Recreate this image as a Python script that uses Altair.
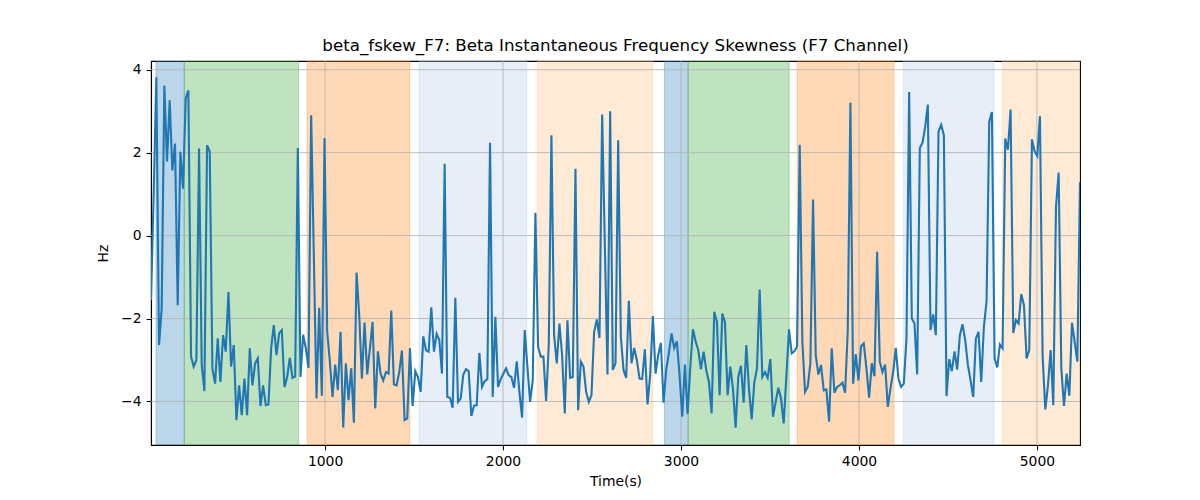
import altair as alt
import pandas as pd

TITLE = "beta_fskew_F7: Beta Instantaneous Frequency Skewness (F7 Channel)"

# sampled signal: first sample time and sampling step (s)
t_start = 22
t_step = 15

skew_hz = [
    -1.56, 1.00, 3.82, -2.64, -1.76, 3.62, 1.79, 3.26, 1.57, 2.22,
    -1.68, 2.02, 1.13, 3.30, 3.50, -2.92, -3.16, -3.00, 2.10, -3.12,
    -3.75, 2.18, 2.02, -3.20, -3.57, -2.48, -3.53, -2.40, -2.80, -1.36,
    -3.16, -2.64, -4.45, -3.61, -4.33, -3.45, -4.33, -2.72, -3.61, -3.08,
    -2.96, -4.11, -3.61, -4.09, -4.07, -2.72, -2.16, -2.88, -2.36, -2.28,
    -3.65, -3.41, -2.95, -3.43, -3.40, 2.11, -3.41, -2.39, -2.72, -3.19,
    2.90, -0.50, -3.93, -1.74, -3.86, 2.35, -2.32, -3.04, -3.89, -3.11,
    -3.73, -2.32, -4.63, -3.08, -3.97, -3.20, -4.51, -0.89, -1.92, -3.45,
    -2.10, -3.35, -2.72, -2.08, -4.17, -2.79, -3.33, -3.49, -3.29, -3.33,
    -1.81, -3.59, -3.61, -3.29, -2.77, -4.45, -4.41, -2.71, -4.11, -3.27,
    -3.41, -3.77, -2.43, -2.76, -2.80, -1.73, -2.80, -2.37, -2.52, -3.33,
    1.73, -3.89, -3.91, -4.15, -1.50, -4.01, -3.93, -3.35, -3.22, -3.27,
    -4.35, -4.10, -4.09, -2.83, -3.65, -3.51, -3.46, 2.24, -3.89, -1.96,
    -3.65, -3.46, -3.33, -3.20, -3.37, -3.41, -3.67, -3.03, -3.77, -4.39,
    -2.28, -3.16, -4.01, -3.49, 0.55, -2.68, -2.92, -2.92, -3.99, -2.64,
    2.42, -2.40, -3.08, -2.12, -2.88, -4.29, -2.04, -3.43, -3.41, 1.61,
    -4.21, -3.04, -3.16, -3.77, -4.01, -3.85, -2.32, -2.02, -2.47, 2.92,
    -0.20, -3.35, 3.00, -3.24, -3.08, 2.30, -2.44, -3.24, -3.43, -1.57,
    -3.08, -2.71, -3.00, -3.45, -3.46, -2.74, -4.07, -3.35, -1.94, -3.33,
    -2.88, -2.59, -4.03, -3.24, -2.83, -2.36, -2.71, -2.55, -3.37, -4.37,
    -3.11, -4.30, -3.20, -2.26, -2.55, -2.76, -3.22, -2.80, -3.24, -3.53,
    -4.29, -1.84, -2.08, -3.85, -1.88, -2.08, -3.85, -3.16, -3.69, -4.63,
    -3.41, -3.14, -4.03, -2.64, -3.69, -4.43, -3.54, -3.20, -1.30, -3.41,
    -3.29, -3.43, -2.98, -4.37, -4.01, -3.67, -3.93, -4.53, -3.40, -2.26,
    -2.84, -2.79, -2.68, 2.19, -2.56, -3.77, -3.65, -3.08, 0.87, -2.88,
    -3.35, -3.12, -3.73, -3.71, -4.49, -2.72, -3.79, -3.65, -3.61, -3.55,
    -3.79, -2.30, 3.20, -3.57, -2.86, -3.49, -2.67, -2.60, -3.20, -3.91,
    -3.08, -3.39, -0.39, -3.04, -3.29, -3.11, -4.13, -3.69, -3.29, -2.71,
    -3.46, -3.65, -3.57, -2.48, 3.46, -2.00, -2.12, -3.35, 2.11, 2.24,
    2.62, 3.16, -2.28, -1.90, -2.40, 2.51, 2.67, 2.42, -3.87, -2.98,
    -3.27, -2.79, -3.23, -2.40, -2.14, -2.52, -3.12, -3.49, -3.89, -2.48,
    -2.32, -3.53, -2.20, -1.58, 2.74, 2.98, -2.96, -3.18, -2.63, -2.72,
    2.34, 2.07, 3.04, -2.35, -2.04, -2.12, -1.41, -1.68, -2.96, -2.76,
    2.32, 2.03, 1.92, 2.88, -2.92, -4.19, -3.61, -2.76, -4.09, 0.69,
    1.52, -3.20, -4.11, -3.33, -3.86, -2.10, -2.56, -3.04, 1.29,
]

# shaded segments
band_start = [50, 209, 899, 1528, 2192, 2907, 3040, 3653, 4249, 4805]
band_end = [209, 852, 1476, 2134, 2842, 3040, 3608, 4197, 4759, 5300]
band_color = ["#1f77b4", "#2ca02c", "#ff7f0e", "#aec7e8", "#ffbb78",
              "#1f77b4", "#2ca02c", "#ff7f0e", "#aec7e8", "#ffbb78"]

x_ticks = [1000, 2000, 3000, 4000, 5000]
y_ticks = [-4, -2, 0, 2, 4]

W = 929
H = 384

times = [t_start + t_step * i for i in range(len(skew_hz))]
sig = pd.DataFrame({"t": times, "v": skew_hz})
bands = pd.DataFrame({"start": band_start, "end": band_end, "color": band_color})

x_scale = alt.Scale(domain=[times[0], times[-1]], nice=False, zero=False)
y_scale = alt.Scale(domain=[-5.05, 4.21], nice=False, zero=False)

x_axis = alt.Axis(values=x_ticks, grid=False, title="Time(s)", format="d",
                  labelPadding=5, titlePadding=6)
y_axis = alt.Axis(values=y_ticks, grid=False, title="Hz",
                  labelExpr="replace(datum.label, '-', '\u2212')",
                  labelPadding=5, titlePadding=10)

band_layer = alt.Chart(bands).mark_rect(
    fillOpacity=0.3, strokeOpacity=0.3, strokeWidth=1, clip=True
).encode(
    x=alt.X("start:Q", scale=x_scale, axis=x_axis),
    x2="end:Q",
    y=alt.value(0),
    y2=alt.value(H),
    fill=alt.Color("color:N", scale=None),
    stroke=alt.Color("color:N", scale=None),
)

xgrid = alt.Chart(pd.DataFrame({"t": x_ticks})).mark_rule(
    color="#b0b0b0", strokeWidth=0.8
).encode(x=alt.X("t:Q", scale=x_scale, axis=x_axis))

ygrid = alt.Chart(pd.DataFrame({"v": y_ticks})).mark_rule(
    color="#b0b0b0", strokeWidth=0.8
).encode(y=alt.Y("v:Q", scale=y_scale, axis=y_axis))

line = alt.Chart(sig).mark_line(color="#1f77b4", strokeWidth=2.1, clip=True).encode(
    x=alt.X("t:Q", scale=x_scale, axis=x_axis),
    y=alt.Y("v:Q", scale=y_scale, axis=y_axis),
)

chart = alt.layer(band_layer, xgrid, ygrid, line).properties(
    width=W,
    height=H,
    autosize=alt.AutoSizeParams(type="none"),
    padding={"left": 143, "top": 53, "right": 100, "bottom": 50},
    title=alt.TitleParams(TITLE, fontSize=16.7, font="DejaVu Sans",
                          fontWeight="normal", anchor="middle", offset=6,
                          color="black"),
).configure_view(
    stroke="black", strokeWidth=1.1
).configure_axis(
    labelFont="DejaVu Sans", titleFont="DejaVu Sans",
    labelFontSize=13.9, titleFontSize=13.9, titleFontWeight="normal",
    labelColor="black", titleColor="black",
    domainColor="black", domainWidth=1.1,
    tickColor="black", tickWidth=1.1, tickSize=4.9,
)

chart.save("out.html", embed_options={"renderer": "svg", "actions": False})
